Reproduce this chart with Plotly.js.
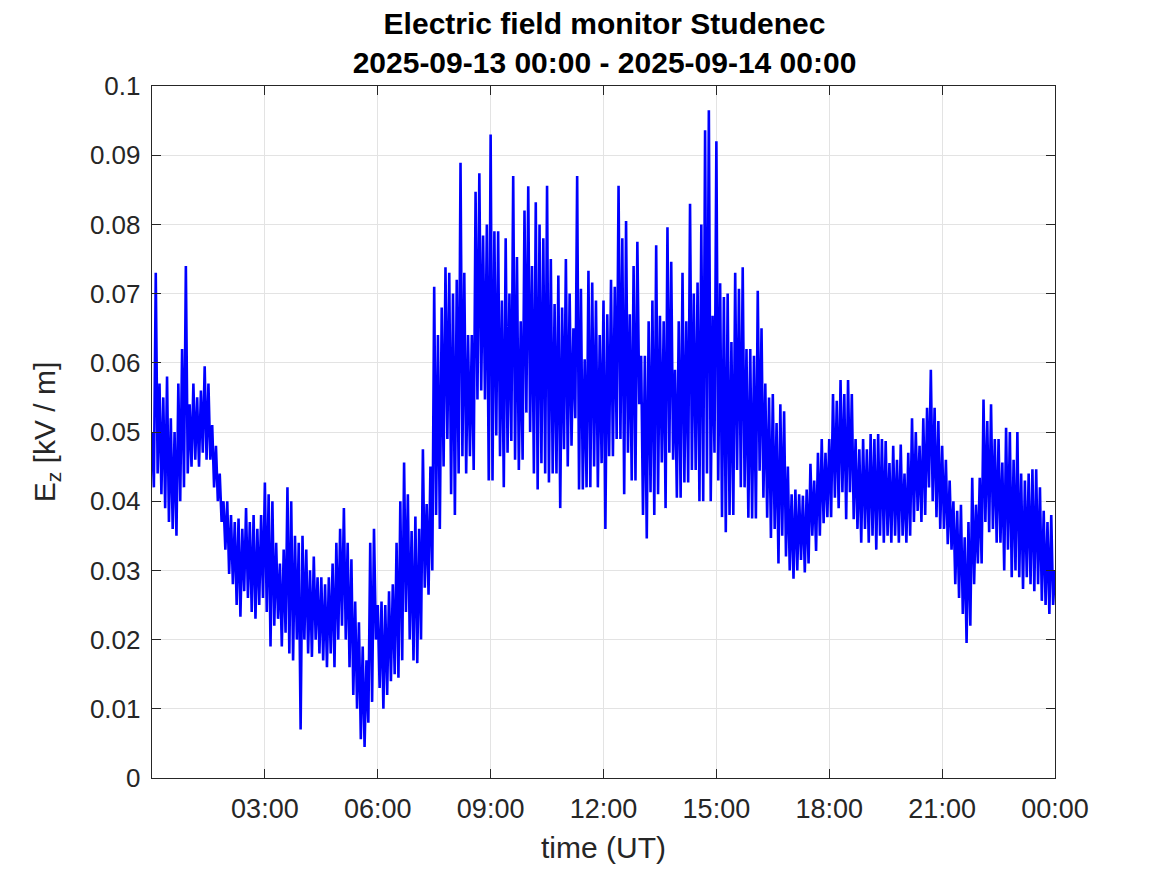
<!DOCTYPE html>
<html>
<head>
<meta charset="utf-8">
<script src="https://cdn.plot.ly/plotly-3.0.1.min.js"></script>
<style>
html,body{margin:0;padding:0;background:#fff;}
#chart{width:1167px;height:875px;}
</style>
</head>
<body>
<div id="chart"></div>
<script>
// Sampling: one value every 3 minutes starting 2025-09-13 00:00 UT
const startTime = '2025-09-13T00:00:00Z';
const stepMinutes = 3;

// Ez values [kV/m]
const ezValues = [
 0.050,0.042,0.073,0.044,0.057,0.041,0.055,0.039,0.058,0.037,
 0.052,0.036,0.050,0.035,0.057,0.040,0.062,0.042,0.074,0.044,
 0.054,0.045,0.057,0.046,0.055,0.045,0.056,0.047,0.0595,0.046,
 0.057,0.046,0.051,0.042,0.048,0.040,0.044,0.037,0.040,0.033,
 0.040,0.0295,0.038,0.028,0.037,0.025,0.0375,0.0233,0.036,0.027,
 0.039,0.026,0.037,0.024,0.038,0.023,0.036,0.025,0.038,0.026,
 0.0427,0.024,0.041,0.019,0.040,0.022,0.034,0.023,0.031,0.019,
 0.033,0.021,0.042,0.018,0.040,0.017,0.035,0.020,0.034,0.007,
 0.035,0.020,0.033,0.018,0.030,0.0175,0.032,0.020,0.029,0.018,
 0.029,0.017,0.028,0.016,0.029,0.018,0.031,0.016,0.034,0.020,
 0.036,0.022,0.039,0.020,0.034,0.016,0.0316,0.012,0.0255,0.010,
 0.0225,0.0056,0.019,0.0045,0.017,0.008,0.034,0.011,0.036,0.020,
 0.025,0.013,0.0255,0.010,0.025,0.012,0.027,0.014,0.028,0.015,
 0.034,0.0145,0.040,0.017,0.0456,0.024,0.041,0.020,0.0357,0.017,
 0.0378,0.0166,0.036,0.020,0.0475,0.0275,0.0396,0.0265,0.045,0.030,
 0.071,0.038,0.064,0.036,0.068,0.045,0.0738,0.049,0.073,0.041,
 0.070,0.038,0.072,0.044,0.0889,0.0465,0.073,0.044,0.064,0.0465,
 0.064,0.0445,0.0847,0.0547,0.0874,0.056,0.0784,0.0547,0.080,0.043,
 0.093,0.043,0.079,0.0495,0.079,0.0465,0.069,0.042,0.078,0.047,
 0.070,0.0487,0.087,0.046,0.0753,0.0445,0.066,0.046,0.082,0.0528,
 0.0855,0.050,0.074,0.044,0.0832,0.0417,0.080,0.0455,0.078,0.044,
 0.0856,0.0427,0.075,0.044,0.0685,0.044,0.0726,0.039,0.068,0.0475,
 0.075,0.045,0.070,0.048,0.065,0.052,0.087,0.0417,0.0707,0.0417,
 0.0605,0.042,0.0733,0.042,0.0716,0.045,0.069,0.042,0.064,0.0455,
 0.069,0.036,0.067,0.0465,0.072,0.0465,0.071,0.049,0.0856,0.049,
 0.078,0.041,0.0805,0.047,0.067,0.043,0.074,0.043,0.0775,0.054,
 0.061,0.038,0.061,0.0346,0.066,0.0413,0.069,0.038,0.077,0.041,
 0.0668,0.0456,0.066,0.039,0.0796,0.047,0.0746,0.046,0.059,0.0405,
 0.066,0.0405,0.073,0.0427,0.066,0.0427,0.083,0.0445,0.070,0.0445,
 0.0716,0.040,0.080,0.040,0.0936,0.044,0.0965,0.040,0.0668,0.047,
 0.092,0.043,0.0715,0.0377,0.0695,0.0355,0.070,0.038,0.063,0.038,
 0.073,0.0445,0.0707,0.042,0.0738,0.042,0.062,0.0376,0.062,0.0375,
 0.061,0.0375,0.0704,0.0444,0.065,0.0405,0.057,0.0376,0.055,0.0347,
 0.0555,0.036,0.0513,0.031,0.054,0.035,0.053,0.032,0.045,0.030,
 0.041,0.0288,0.0417,0.030,0.041,0.0315,0.0408,0.0297,0.0417,0.031,
 0.0454,0.035,0.043,0.0328,0.047,0.035,0.049,0.0368,0.047,0.0377,
 0.049,0.0377,0.0555,0.0405,0.0545,0.039,0.0575,0.0413,0.0555,0.0374,
 0.0575,0.0413,0.0555,0.0374,0.049,0.036,0.0475,0.034,0.049,0.036,
 0.0475,0.034,0.0497,0.035,0.049,0.033,0.0497,0.035,0.049,0.034,
 0.0487,0.035,0.0455,0.034,0.048,0.035,0.046,0.034,0.0482,0.035,
 0.044,0.034,0.047,0.035,0.052,0.037,0.050,0.0386,0.048,0.037,
 0.052,0.038,0.0535,0.042,0.059,0.040,0.0535,0.0377,0.0516,0.036,
 0.048,0.036,0.046,0.0338,0.043,0.033,0.040,0.028,0.0386,0.026,
 0.0395,0.0237,0.0348,0.0195,0.037,0.022,0.0434,0.028,0.0395,0.031,
 0.0434,0.031,0.0547,0.037,0.0516,0.0355,0.054,0.036,0.049,0.034,
 0.049,0.034,0.0456,0.030,0.0506,0.033,0.050,0.029,0.046,0.030,
 0.050,0.029,0.044,0.0273,0.043,0.029,0.044,0.028,0.0446,0.027,
 0.0446,0.028,0.042,0.0256,0.0386,0.025,0.037,0.0237,0.038,0.025,
 0.030
];

const xTickVals = ['2025-09-13 03:00','2025-09-13 06:00','2025-09-13 09:00','2025-09-13 12:00',
                   '2025-09-13 15:00','2025-09-13 18:00','2025-09-13 21:00','2025-09-14 00:00'];
const xTickText = ['03:00','06:00','09:00','12:00','15:00','18:00','21:00','00:00'];
const yTickVals = [0,0.01,0.02,0.03,0.04,0.05,0.06,0.07,0.08,0.09,0.1];
const yTickText = ['0','0.01','0.02','0.03','0.04','0.05','0.06','0.07','0.08','0.09','0.1'];

function pad(n){return (n<10?'0':'')+n;}
const t0 = Date.parse(startTime);
const times = ezValues.map((_, i) => {
  const d = new Date(t0 + i*stepMinutes*60000);
  return d.getUTCFullYear()+'-'+pad(d.getUTCMonth()+1)+'-'+pad(d.getUTCDate())+' '+pad(d.getUTCHours())+':'+pad(d.getUTCMinutes());
});

const font = 'Liberation Sans, Arial, Helvetica, sans-serif';
const axisColor = '#262626';

const trace = {
  x: times, y: ezValues, type: 'scatter', mode: 'lines',
  line: {color: '#0000ff', width: 2.6}, hoverinfo: 'skip'
};

const layout = {
  width: 1167, height: 875,
  margin: {l: 152, r: 112, t: 86, b: 97},
  paper_bgcolor: '#ffffff', plot_bgcolor: '#ffffff',
  showlegend: false,
  title: {
    text: '<b>Electric field monitor Studenec</b><br><b>2025-09-13 00:00 - 2025-09-14 00:00</b>',
    font: {family: font, size: 30, color: '#000000'},
    x: 0.518, xanchor: 'center', y: 0.961, yanchor: 'middle'
  },
  xaxis: {
    type: 'date',
    range: ['2025-09-13 00:00', '2025-09-14 00:00'],
    tickmode: 'array', tickvals: xTickVals, ticktext: xTickText,
    showgrid: true, gridcolor: '#e3e3e3', gridwidth: 1,
    showline: true, linecolor: axisColor, linewidth: 1.3, mirror: 'ticks',
    ticks: 'inside', ticklen: 9, tickcolor: axisColor, tickwidth: 1,
    tickfont: {family: font, size: 27, color: axisColor},
    ticklabelstandoff: 6,
    zeroline: false,
    title: {text: 'time (UT)', font: {family: font, size: 30, color: axisColor}, standoff: 14}
  },
  yaxis: {
    range: [0, 0.1],
    tickmode: 'array', tickvals: yTickVals, ticktext: yTickText,
    showgrid: true, gridcolor: '#e3e3e3', gridwidth: 1,
    showline: true, linecolor: axisColor, linewidth: 1.3, mirror: 'ticks',
    ticks: 'inside', ticklen: 9, tickcolor: axisColor, tickwidth: 1,
    tickfont: {family: font, size: 26, color: axisColor},
    ticklabelstandoff: 5,
    zeroline: false,
    title: {text: 'E<sub>z</sub> [kV / m]', font: {family: font, size: 30, color: axisColor}, standoff: 25}
  }
};

Plotly.newPlot('chart', [trace], layout, {staticPlot: true, displayModeBar: false});
</script>
</body>
</html>
